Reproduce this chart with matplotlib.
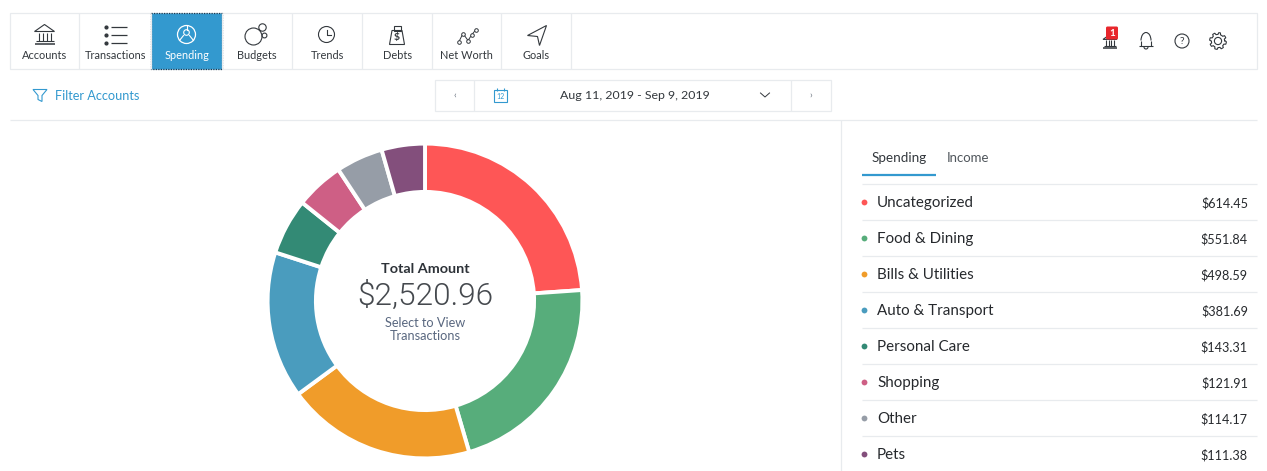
import matplotlib
matplotlib.use('Agg')
import numpy as np
import matplotlib.pyplot as plt
from matplotlib.patches import Circle, Rectangle, Polygon, FancyBboxPatch, Arc

plt.rcParams['font.family'] = ['Lato', 'DejaVu Sans']

# data
categories = ['Uncategorized', 'Food & Dining', 'Bills & Utilities', 'Auto & Transport',
              'Personal Care', 'Shopping', 'Other', 'Pets']
amounts = [614.45, 551.84, 498.59, 381.69, 143.31, 121.91, 114.17, 111.38]
# wedge sizes in degrees as measured on the ring, they differ a little from the listed amounts
wedge_degrees = [86, 77.7, 70, 54.3, 20.7, 17.9, 17.4, 16]
colors = ['#fe5656', '#57ad7b', '#f09c2a', '#4a9cbe', '#338a75', '#ce5f85', '#969da7', '#834f7c']
nav_labels = ['Accounts', 'Transactions', 'Spending', 'Budgets', 'Trends', 'Debts', 'Net Worth', 'Goals']
nav_edges = [10, 79, 151, 222, 292, 362, 432, 501, 571]
total_label = '$2,520.96'
date_label = 'Aug 11, 2019 - Sep 9, 2019'

W, H = 1267, 471
LINE = '#e8ebee'
INK = '#33383d'
BLUE = '#3399cf'

fig = plt.figure(figsize=(W / 100, H / 100), dpi=100, facecolor='white')
ax = fig.add_axes([0, 0, 1, 1])
ax.set_xlim(0.5, W + 0.5)
ax.set_ylim(H + 0.5, 0.5)
ax.axis('off')


def hline(x0, x1, y, c=LINE, lw=0.9):
    ax.plot([x0, x1], [y, y], color=c, lw=lw, solid_capstyle='butt')


def vline(x, y0, y1, c=LINE, lw=0.9):
    ax.plot([x, x], [y0, y1], color=c, lw=lw, solid_capstyle='butt')


def circle(x, y, r, c=INK, lw=0.8, fc='none'):
    ax.add_patch(Circle((x, y), r, ec=c, fc=fc, lw=lw))


# nav bar
ax.add_patch(Rectangle((10, 13), 1247, 56, fc='white', ec=LINE, lw=0.9))
for x in nav_edges[1:]:
    vline(x, 13, 69)
ax.add_patch(Rectangle((151, 13), 71, 56, fc=BLUE, ec='#1c3a50', lw=0.9, ls=(0, (1, 1))))
for i, name in enumerate(nav_labels):
    cx = (nav_edges[i] + nav_edges[i + 1]) / 2 + 0.7
    ax.text(cx, 55.5, name, ha='center', va='center', fontsize=7.9,
            color='white' if name == 'Spending' else INK)


def bank(cx, cy, s=1.0, lw=0.8):
    ax.add_patch(Polygon([(cx - 10 * s, cy - 3 * s), (cx, cy - 10 * s), (cx + 10 * s, cy - 3 * s)],
                         closed=True, fc='none', ec=INK, lw=lw))
    for dx in (-6, -2, 2, 6):
        vline(cx + dx * s, cy - 2 * s, cy + 6 * s, INK, lw)
    hline(cx - 9 * s, cx + 9 * s, cy + 6.5 * s, INK, lw)
    hline(cx - 10 * s, cx + 10 * s, cy + 9 * s, INK, lw + 0.3)


# Accounts
bank(45, 35)
# Transactions
for y in (27, 35, 43):
    ax.plot([106], [y], 'o', ms=2.0, color=INK)
    hline(111, 127, y, INK, 0.9)
# Spending
circle(187, 35, 9, 'white', 0.9)
circle(187, 33, 2.8, 'white', 0.8)
ax.plot([184, 180], [36, 41], color='white', lw=0.8)
ax.plot([190, 194], [36, 41], color='white', lw=0.8)
ax.plot([187, 187], [26, 30], color='white', lw=0.8)
# Budgets
circle(254, 37, 8.5)
circle(263, 28, 3.7)
circle(265, 36, 2.4)
# Trends
circle(327, 35, 8)
ax.plot([327, 327, 331.5], [30, 35.5, 35.5], color=INK, lw=0.8)
# Debts
ax.add_patch(Polygon([(392.5, 31), (402.5, 31), (405, 45), (390, 45)], closed=True, fc='none', ec=INK, lw=0.8))
ax.add_patch(Rectangle((394, 26), 7, 5, fc='none', ec=INK, lw=0.8))
ax.text(397.5, 38, '$', ha='center', va='center', fontsize=7.5, fontweight='bold', color=INK)
# Net Worth
nx = [459.5, 463.5, 468.5, 472.5, 476.5]
ny = [42, 34, 41, 35, 30]
ax.plot(nx, ny, '-o', color=INK, lw=0.7, ms=2.6, mfc='white', mec=INK, mew=0.7)
# Goals
ax.add_patch(Polygon([(547, 26), (528, 36), (538, 37), (540, 46)], closed=True, fc='none', ec=INK, lw=0.8))

# right side icons
bank(1110.5, 42, 0.7, 0.8)
ax.add_patch(FancyBboxPatch((1106.5, 27), 12, 13, boxstyle='round,pad=0,rounding_size=1.5', fc='#e8262c', ec='none'))
ax.text(1112.5, 33.5, '1', ha='center', va='center', fontsize=7, fontweight='bold', color='white')
ax.add_patch(Arc((1146.5, 41), 10, 16, theta1=180, theta2=360, ec=INK, lw=0.8))
vline(1141.5, 41, 46, INK, 0.8)
vline(1151.5, 41, 46, INK, 0.8)
hline(1139.5, 1153.5, 46.5, INK, 0.8)
ax.add_patch(Arc((1146.5, 47.5), 4, 4, theta1=0, theta2=180, ec=INK, lw=0.8))
circle(1182.5, 41.5, 7)
ax.text(1182.5, 41.5, '?', ha='center', va='center', fontsize=7.5, color=INK)
theta = np.linspace(0, 2 * np.pi, 65)
rad = 7.5 + 0.9 * np.sign(np.sin(8 * theta))
ax.plot(1218.5 + rad * np.cos(theta), 41.5 + rad * np.sin(theta), color=INK, lw=0.8)
circle(1218.5, 41.5, 3.6, INK, 0.8)

# filter row
ax.add_patch(Polygon([(33.5, 90), (47.5, 90), (42.5, 96), (42.5, 102), (38.5, 100), (38.5, 96)],
                     closed=True, fc='none', ec=BLUE, lw=0.8))
ax.text(55.5, 96, 'Filter Accounts', ha='left', va='center', fontsize=9.2, color=BLUE)
ax.add_patch(Rectangle((435, 80), 396, 31, fc='white', ec=LINE, lw=0.9))
vline(474, 80, 111)
vline(791, 80, 111)
ax.text(455, 95.5, '‹', ha='center', va='center', fontsize=7, color='#6b7480')
ax.text(811, 95.5, '›', ha='center', va='center', fontsize=7, color='#6b7480')
ax.add_patch(Rectangle((494, 90), 13, 12, fc='none', ec=BLUE, lw=0.8))
vline(497, 88, 91, BLUE, 0.8)
vline(504, 88, 91, BLUE, 0.8)
ax.text(500.5, 96.5, '12', ha='center', va='center', fontsize=5, color=BLUE)
ax.text(635.5, 96, date_label, ha='center', va='center', fontsize=8.95, color=INK)
ax.plot([761, 765.5, 770], [93.5, 97.5, 93.5], color=INK, lw=0.7)
hline(10, 1257, 120.5)
vline(841, 120, 471)

# side list
ax.text(899.5, 158.5, 'Spending', ha='center', va='center', fontsize=9.7, color=INK)
ax.text(968, 158.5, 'Income', ha='center', va='center', fontsize=9.5, color='#50565c')
hline(862, 936, 175, BLUE, 1.6)
for i, (name, val, col) in enumerate(zip(categories, amounts, colors)):
    y = 203.5 + 36 * i
    hline(862, 1257, y - 19.5)
    ax.plot([864.5], [y - 1], 'o', ms=4.2, color=col, mec='none')
    ax.text(877.5, y, name, ha='left', va='center', fontsize=10.9, color='#26292d')
    ax.text(1248.5, y, '${:.2f}'.format(val), ha='right', va='center', fontsize=9.1, color='#26292d')

# donut
cx, cy, r = 425, 301, 157.4
pie_ax = fig.add_axes([(cx - r) / W, 1 - (cy + r) / H, 2 * r / W, 2 * r / H])
pie_ax.pie(wedge_degrees, colors=colors, startangle=90, counterclock=False, radius=1,
           wedgeprops={'width': 48.3 / r, 'edgecolor': 'white', 'linewidth': 2.8})
pie_ax.set_xlim(-1, 1)
pie_ax.set_ylim(-1, 1)

ax.text(425.5, 269.5, 'Total Amount', ha='center', va='center', fontsize=10.4, fontweight='bold', color='#2d3238')
ax.text(425.5, 296.5, total_label, ha='center', va='center', fontsize=22.7, family='Roboto', fontweight=300, color='#45494e')
ax.text(425.5, 323, 'Select to View', ha='center', va='center', fontsize=9.2, color='#5a6880')
ax.text(425.5, 336, 'Transactions', ha='center', va='center', fontsize=9.2, color='#5a6880')

fig.savefig('out.png', dpi=100)
